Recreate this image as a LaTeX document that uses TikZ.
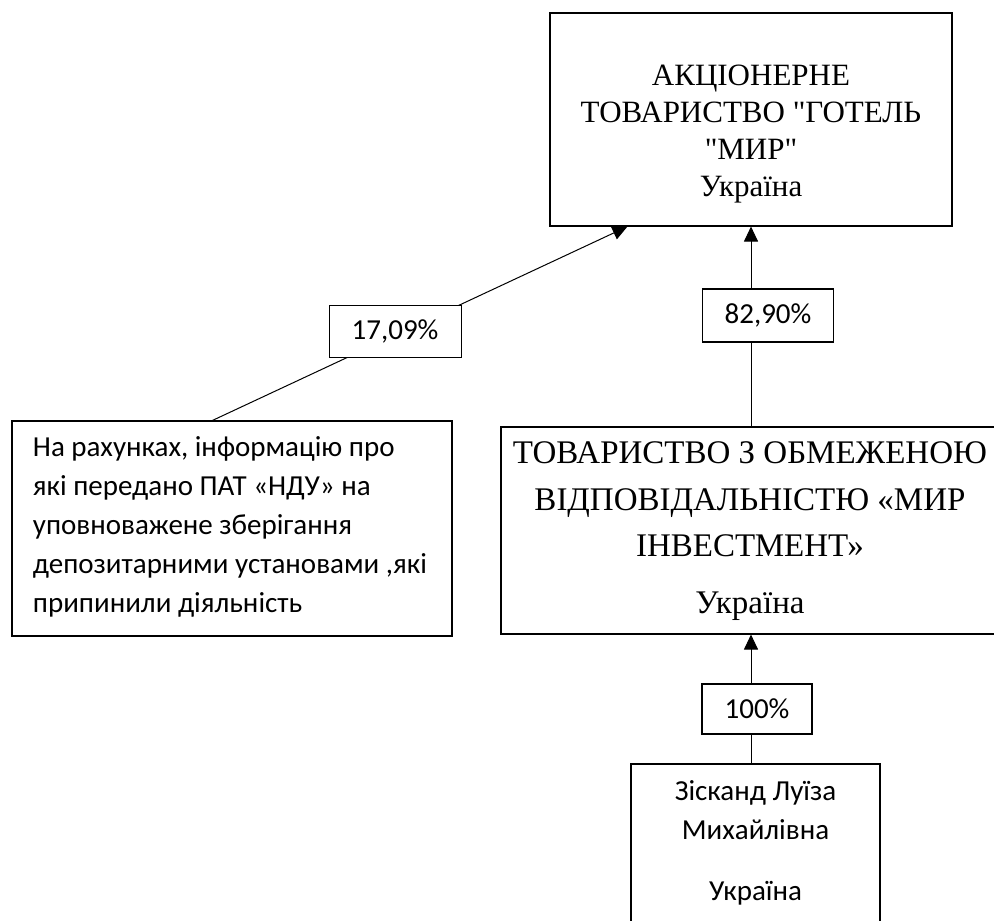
\documentclass[tikz,border=0pt]{standalone}
\usepackage{fontspec}
\setmainfont{Liberation Serif}[Ligatures=TeXOff]
\setsansfont{Carlito}
\usetikzlibrary{arrows.meta}
\usetikzlibrary{positioning}

\begin{document}
\begin{tikzpicture}[x=1pt,y=-1pt,line width=1pt,
  >={Triangle[length=15pt,width=14pt]},
  box/.style={draw,line width=1.1pt,inner sep=0pt},
  serif/.style={font=\fontsize{31}{37}\selectfont,align=center,inner sep=0pt},
  sans/.style={font=\sffamily\fontsize{29}{39}\selectfont,inner sep=0pt},
  pct/.style={draw,fill=white,line width=1.1pt,inner sep=0pt,
    font=\sffamily\fontsize{29}{35}\selectfont}]

  \clip (0,0) rectangle (994,921);

  \node[box,minimum width=402pt,minimum height=213pt] (hotel) at (751,119.5) {};
  \node[box,minimum width=498pt,minimum height=207pt] (tov) at (750,530.5) {};
  \node[box,minimum width=440pt,minimum height=215pt] (src) at (232,528.5) {};
  \node[box,minimum width=249pt,minimum height=181pt] (person) at (755.5,854.5) {};

  \node[serif,anchor=north] (hoteltxt) [below=52pt of hotel.north]
    {АКЦІОНЕРНЕ\\ТОВАРИСТВО "ГОТЕЛЬ\\"МИР"\\Україна};
  \node[serif,anchor=north,font=\fontsize{33}{46.5}\selectfont] (tovtxt)
    [below=15pt of tov.north]
    {ТОВАРИСТВО З ОБМЕЖЕНОЮ\\ВІДПОВІДАЛЬНІСТЮ «МИР\\ІНВЕСТМЕНТ»\\[10.5pt]Україна};
  \node[sans,align=left] (srctxt) [below right=16pt and 21pt of src.north west]
    {На рахунках, інформацію про\\які передано ПАТ «НДУ» на\\уповноважене зберігання\\депозитарними установами ,які\\припинили діяльність};
  \node[sans,align=center] (persontxt) [below=17pt of person.north]
    {Зісканд Луїза\\Михайлівна\\[22pt]Україна};

  \draw[->] ([xshift=201pt]src.north west) --
    node[pct,pos=0.44,yshift=4pt,minimum width=132pt,minimum height=52pt] (p1) {17,09\%}
    ([xshift=78pt]hotel.south west);
  \draw[->] (tov.north -| hotel.south) --
    node[pct,xshift=17pt,yshift=11pt,minimum width=131pt,minimum height=53pt] (p2) {82,90\%}
    (hotel.south);
  \draw[->] (person.north -| hotel.south) --
    node[pct,xshift=6pt,yshift=-10pt,minimum width=110pt,minimum height=50pt] (p3) {100\%}
    (tov.south -| hotel.south);
\end{tikzpicture}
\end{document}
